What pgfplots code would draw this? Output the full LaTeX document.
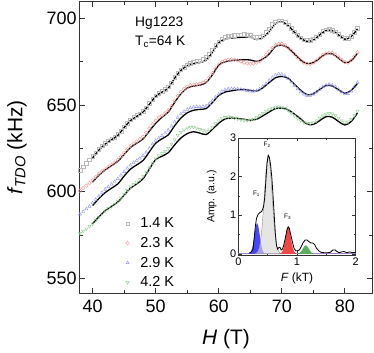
\documentclass[border=0pt]{standalone}
\usepackage{fontspec}
\setmainfont{Liberation Sans}
\usepackage{pgfplots}
\pgfplotsset{compat=1.18}

\definecolor{mgray}{RGB}{185,185,185}
\definecolor{mred}{RGB}{245,150,150}
\definecolor{mblue}{RGB}{150,150,245}
\definecolor{mgreen}{RGB}{150,205,150}
\definecolor{fblue}{RGB}{70,70,250}
\definecolor{fgray}{RGB}{215,215,215}
\definecolor{fred}{RGB}{240,70,70}
\definecolor{fgreen}{RGB}{90,175,90}
\definecolor{basel}{RGB}{170,130,210}

\pgfplotsset{
  mk/.style={only marks, mark size=1.8bp, line width=0.45bp},
  fit/.style={black, line width=1.3bp, smooth, no markers, forget plot},
}

\begin{document}
\begin{tikzpicture}
\begin{axis}[
    name=main, at={(0,0)}, anchor=south west,
    scale only axis, width=292bp, height=291bp,
    xmin=38, xmax=84.3, ymin=541.5, ymax=709.5,
    xtick={40,50,...,80}, ytick={550,600,650,700},
    minor x tick num=1, minor y tick num=1,
    tick align=inside, major tick length=5bp, minor tick length=3bp,
    every tick/.style={black!80, line width=0.8bp},
    axis line style={black!80, line width=1bp},
    /pgf/number format/assume math mode=true,
    ticklabel style={font=\fontsize{18}{18}\selectfont},
    xticklabel style={yshift=-3bp},
    xlabel={\textit{H} (T)},
    ylabel={\textit{f}\textsubscript{\textit{TDO}} (kHz)},
    label style={font=\fontsize{21}{21}\selectfont},
    xlabel style={at={(axis description cs:0.5,-0.158)}, anchor=center},
    ylabel style={at={(axis description cs:-0.216,0.5)}, anchor=center},
    legend style={draw=none, fill=none, at={(axis description cs:0.146,0.272)}, anchor=north west,
      font=\fontsize{14.5}{14.5}\selectfont, row sep=4bp,
      /tikz/every odd column/.append style={column sep=9bp}},
    legend cell align=left,
]
% 1.4 K
\addplot[mk, mgray, mark=square] table {
38 612.5
38.5 614.5
39 616.5
39.5 618.5
40 620.5
40.5 622.5
41 624.5
41.5 626.5
42 628
42.5 629.3
43 630.5
43.5 631.5
44 633
44.5 635
45 637.5
45.5 639.5
46 641.5
46.5 643
47 644
47.5 645
48 646.5
48.5 648.5
49 651
49.5 653.5
50 655.5
50.5 657
51 658
51.5 659
52 660.5
52.5 663
53 666
53.5 668.5
54 670.5
54.5 672
55 673.3
55.5 674
56 674.8
56.5 675.3
57 675.7
57.5 676.5
58 677.5
58.5 679.5
59 682
59.5 684.5
60 686.5
60.5 688
61 689
61.5 689.6
62 690
62.5 690.3
63 690.5
63.5 690.7
64 690.8
64.5 690.6
65 690.2
65.5 689.5
66 689
66.5 689.2
67 690
67.5 692
68 694
68.5 696.5
69 698
69.5 698.8
70 698.7
70.5 697.8
71 696.3
71.5 694.3
72 692.3
72.5 690.3
73 688.8
73.5 687.8
74 687.3
74.5 687.5
75 688.3
75.5 689.5
76 691
76.5 692.5
77 693.5
77.5 693.8
78 693.3
78.5 692.3
79 691
79.5 689.5
80 688.5
80.5 688.5
81 689.8
81.5 692
82 694.5
};
\addlegendentry{1.4 K}
% 2.3 K
\addplot[mk, mred, mark=o] table {
38 600.5
38.5 602
39 603.5
39.5 605
40 606.5
40.5 608.5
41 610.3
41.5 611.8
42 613
42.5 614.3
43 615.5
43.5 616.8
44 618.3
44.5 620.3
45 622.3
45.5 624.5
46 626.3
46.5 627.8
47 629
47.5 630.3
48 631.8
48.5 634
49 636.5
49.5 639
50 641
50.5 642.8
51 644
51.5 645.3
52 647
52.5 649.5
53 652.5
53.5 655.3
54 657.5
54.5 659.3
55 660.5
55.5 661.3
56 661.8
56.5 662
57 662.3
57.5 663
58 664
58.5 666
59 668.5
59.5 671
60 673.3
60.5 674.8
61 675.7
61.5 676.2
62 676.3
62.5 676.2
63 675.8
63.5 675.2
64 674.5
64.5 674
65 673.8
65.5 674
66 674.5
66.5 675.5
67 677
67.5 679
68 681
68.5 683
69 684.5
69.5 685.3
70 685.3
70.5 684.5
71 683.2
71.5 681.5
72 679.5
72.5 677.5
73 675.8
73.5 674.5
74 673.8
74.5 673.8
75 674.5
75.5 675.8
76 677.3
76.5 678.8
77 679.8
77.5 680.2
78 680
78.5 679
79 677.5
79.5 676
80 674.8
80.5 674.5
81 675.8
81.5 678
82 680.5
};
\addlegendentry{2.3 K}
% 2.9 K
\addplot[mk, mblue, mark=triangle] table {
38 587
38.5 588.5
39 590
39.5 591.5
40 593.5
40.5 595.5
41 597.5
41.5 599.5
42 601.3
42.5 602.8
43 604.3
43.5 605.8
44 607.5
44.5 609.5
45 611.5
45.5 613.5
46 615.3
46.5 616.8
47 618
47.5 619.3
48 620.8
48.5 622.8
49 625
49.5 627.5
50 629.5
50.5 631
51 632.3
51.5 633.8
52 635.5
52.5 637.8
53 640.3
53.5 642.8
54 644.8
54.5 646.3
55 647.5
55.5 648.3
56 648.8
56.5 649
57 649
57.5 649.2
58 649.5
58.5 650.8
59 652.5
59.5 654.5
60 656.3
60.5 657.8
61 658.8
61.5 659.3
62 659.5
62.5 659.5
63 659.3
63.5 659
64 658.7
64.5 658.3
65 658
65.5 658
66 658.3
66.5 659.3
67 660.8
67.5 662.5
68 664.3
68.5 666
69 667.3
69.5 668
70 667.8
70.5 666.8
71 665.3
71.5 663.3
72 661.3
72.5 659.3
73 657.5
73.5 656.3
74 655.5
74.5 655.5
75 656.3
75.5 657.5
76 659
76.5 660.5
77 661.5
77.5 662
78 661.5
78.5 660.5
79 659
79.5 657.5
80 656.5
80.5 656.5
81 658
81.5 660.5
82 663
};
\addlegendentry{2.9 K}
% 4.2 K
\addplot[mk, mgreen, mark=triangle, mark options={rotate=180}] table {
38 576
38.5 577.3
39 578.5
39.5 580
40 581.5
40.5 583.3
41 585.3
41.5 587.3
42 589
42.5 590.3
43 591.5
43.5 592.8
44 594.3
44.5 596.3
45 598.5
45.5 600.8
46 602.8
46.5 604.3
47 605.5
47.5 607
48 608.8
48.5 611
49 613.8
49.5 616.5
50 619
50.5 620.8
51 622
51.5 623.3
52 625
52.5 627.5
53 630
53.5 632.5
54 634.3
54.5 635.8
55 636.8
55.5 637.3
56 637.3
56.5 636.8
57 636
57.5 635.3
58 635
58.5 635.8
59 637.3
59.5 639.3
60 641
60.5 642.3
61 643
61.5 643.2
62 643
62.5 642.5
63 642
63.5 641.5
64 641.2
64.5 641
65 641.2
65.5 641.8
66 642.8
66.5 644
67 645.3
67.5 646.5
68 647.5
68.5 648.3
69 648.8
69.5 649
70 648.8
70.5 648
71 646.8
71.5 645.3
72 643.8
72.5 642.3
73 641
73.5 640
74 639.5
74.5 639.5
75 640
75.5 641
76 642.5
76.5 643.8
77 644.8
77.5 645.2
78 645
78.5 644
79 642.5
79.5 641
80 640
80.5 640.3
81 641.8
81.5 644
82 646.5
};
\addlegendentry{4.2 K}

% fits
\addplot[fit] table {
40 619.5
41 624
42 627.5
43 630
44 632.5
45 637
46 641
47 643.5
48 646
49 650.5
50 655
51 657.5
52 659.8
53 665.5
54 670
55 672.8
56 674
57 674.5
58 676
59 680.5
60 686
61 688
62 688.7
63 689
64 689.2
65 689.2
66 687.8
67 689
68 692.5
69 697
70 698
71 696
72 692
73 688.5
74 686.8
75 687.5
76 690.5
77 693
78 693
79 690.5
80 688
81 689.5
82 694
};
\addplot[fit] table {
40 605.5
41 609.5
42 612.5
43 615
44 617.5
45 621.5
46 625.5
47 628
48 630.5
49 635
50 639.5
51 643
52 646
53 651.5
54 656.5
55 659.8
56 661
57 661.5
58 663
59 667.5
60 673
61 675
62 675.7
63 676
64 676.2
65 676
66 675.2
67 676.5
68 679.5
69 683.8
70 684.5
71 683
72 679.5
73 676
74 674
75 674.5
76 677
77 679.5
78 679.5
79 677
80 674.5
81 675.5
82 680
};
\addplot[fit] table {
40 592
41 596
42 599.5
43 602
44 604.5
45 609
46 613
47 615.5
48 618
49 623
50 628
51 630.5
52 632.8
53 638
54 642.5
55 645.5
56 647
57 647.5
58 648
59 651.5
60 655.5
61 657.5
62 658.2
63 658.8
64 659
65 658.5
66 658
67 660
68 663
69 665.8
70 666.5
71 665.5
72 662
73 658.5
74 656
75 656.5
76 659
77 661.3
78 661
79 658.8
80 656.8
81 658.5
82 662.5
};
\addplot[fit] table {
40 581.5
41 585.5
42 589
43 591.5
44 594
45 598
46 602
47 604.5
48 607.5
49 613
50 618.5
51 620.5
52 622.5
53 627
54 631
55 633.5
56 634.6
57 633.8
58 633
59 636
60 639.5
61 642
62 642.5
63 642.3
64 641.8
65 641.3
66 641.8
67 643.8
68 646
69 648
70 648.2
71 647.3
72 644.8
73 642
74 639
75 638.8
76 641
77 643.3
78 643
79 640.5
80 638.5
81 640.5
82 645.5
};

\node[anchor=west, font=\fontsize{13.8}{13.8}\selectfont] at (axis cs:46.2,697.3) {Hg1223};
\node[anchor=west, font=\fontsize{13.8}{13.8}\selectfont] at (axis cs:46.2,686.4) {T\textsubscript{c}=64 K};
\end{axis}

\begin{axis}[
    at={(158.3bp,38bp)}, anchor=south west,
    scale only axis, width=117.4bp, height=117bp,
    xmin=0, xmax=2, ymin=-0.03, ymax=3,
    xtick={0,1,2}, ytick={0,1,2,3},
    minor x tick num=1, minor y tick num=1,
    tick align=inside, major tick length=3.5bp, minor tick length=2bp,
    every tick/.style={black!80, line width=0.6bp},
    axis line style={black!80, line width=0.7bp},
    /pgf/number format/assume math mode=true,
    ticklabel style={font=\fontsize{11}{11}\selectfont},
    xticklabel style={yshift=1bp},
    yticklabel style={xshift=1.5bp},
    xlabel={\textit{F} (kT)},
    ylabel={Amp. (a.u.)},
    xlabel style={font=\fontsize{12}{12}\selectfont, at={(axis description cs:0.5,-0.197)}, anchor=center},
    ylabel style={font=\fontsize{10.5}{10.5}\selectfont, at={(axis description cs:-0.227,0.5)}, anchor=center},
]
\addplot[basel, line width=0.8bp] coordinates {(0,0.01) (2,0.01)};
\addplot[fill=fblue, draw=none] coordinates {
(0.18,0.006) (0.20,0.023) (0.22,0.068) (0.24,0.165) (0.26,0.329) (0.28,0.539)
(0.30,0.725) (0.32,0.8) (0.34,0.725) (0.36,0.539) (0.38,0.329) (0.40,0.165)
(0.42,0.068) (0.44,0.023) (0.46,0.006)} \closedcycle;
\addplot[fill=fgray, draw=black!45, line width=0.4bp, fill opacity=0.65] coordinates {
(0.29,0.008) (0.31,0.022) (0.33,0.055) (0.35,0.123) (0.37,0.251) (0.39,0.464)
(0.41,0.781) (0.43,1.196) (0.45,1.665) (0.47,2.11) (0.49,2.43) (0.51,2.55)
(0.53,2.43) (0.55,2.11) (0.57,1.665) (0.59,1.196) (0.61,0.781) (0.63,0.464)
(0.65,0.251) (0.67,0.123) (0.69,0.055) (0.71,0.022) (0.73,0.008)} \closedcycle;
\addplot[fill=fred, draw=none] coordinates {
(0.71,0.006) (0.73,0.020) (0.75,0.059) (0.77,0.144) (0.79,0.288) (0.81,0.472)
(0.83,0.634) (0.85,0.7) (0.87,0.634) (0.89,0.472) (0.91,0.288) (0.93,0.144)
(0.95,0.059) (0.97,0.020) (0.99,0.006)} \closedcycle;
\addplot[fill=fgreen, draw=none] coordinates {
(1.01,0.004) (1.03,0.012) (1.05,0.030) (1.07,0.061) (1.09,0.107) (1.11,0.160)
(1.13,0.203) (1.15,0.22) (1.17,0.203) (1.19,0.160) (1.21,0.107) (1.23,0.061)
(1.25,0.030) (1.27,0.012) (1.29,0.004)} \closedcycle;
\addplot[black, line width=0.8bp] coordinates {
(0.19,0.02) (0.22,0.05) (0.25,0.12) (0.27,0.4) (0.29,0.7) (0.31,0.92) (0.34,1.03)
(0.37,1.07) (0.40,1.10) (0.43,1.22) (0.45,1.45) (0.47,1.9) (0.49,2.35) (0.51,2.55)
(0.53,2.5) (0.55,2.3) (0.57,2.0) (0.59,1.55) (0.61,1.05) (0.63,0.55) (0.65,0.22)
(0.67,0.12) (0.69,0.16) (0.71,0.17) (0.73,0.1) (0.75,0.12) (0.77,0.2) (0.80,0.4)
(0.83,0.63) (0.85,0.7) (0.87,0.66) (0.89,0.52) (0.92,0.32) (0.95,0.14) (0.98,0.08)
(1.01,0.08) (1.04,0.1) (1.07,0.18) (1.10,0.28) (1.14,0.36) (1.17,0.36) (1.20,0.32)
(1.24,0.28) (1.27,0.28) (1.30,0.24) (1.33,0.15) (1.37,0.08) (1.41,0.04) (1.46,0.03)
(1.52,0.03) (1.57,0.04) (1.61,0.1) (1.65,0.1) (1.68,0.06) (1.72,0.03) (1.76,0.05)
(1.80,0.06) (1.85,0.03) (1.90,0.05) (1.95,0.03) (2.0,0.04)};
\node[font=\fontsize{6.5}{6.5}\selectfont] at (axis cs:0.49,2.82) {F\textsubscript{2}};
\node[font=\fontsize{6.5}{6.5}\selectfont] at (axis cs:0.31,1.55) {F\textsubscript{1}};
\node[font=\fontsize{6.5}{6.5}\selectfont] at (axis cs:0.84,0.95) {F\textsubscript{3}};
\end{axis}
\pgfresetboundingbox
\path (-80bp,-60bp) rectangle (294bp,293bp);
\end{tikzpicture}
\end{document}
